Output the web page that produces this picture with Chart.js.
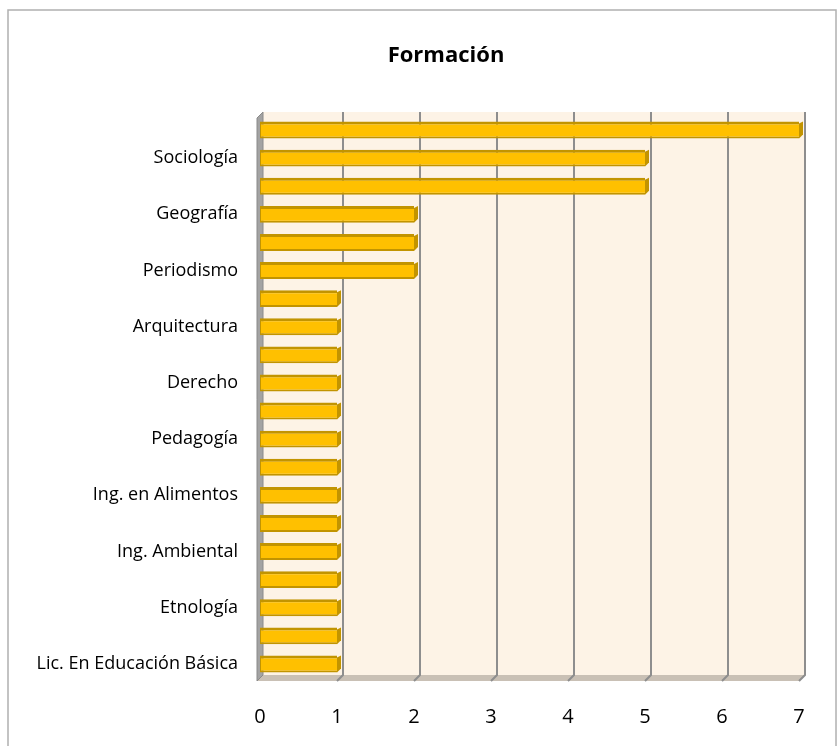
<!DOCTYPE html>
<html>
<head>
<meta charset="utf-8">
<script src="https://cdn.jsdelivr.net/npm/chart.js@4.4.1/dist/chart.umd.min.js"></script>
<style>
  html, body { margin: 0; padding: 0; background: #fff; }
  canvas { display: block; }
</style>
</head>
<body>
<canvas id="chart" width="840" height="746"></canvas>
<script>
// Categories top to bottom; Excel only printed every second label
const categories = [
  "", "Sociología", "", "Geografía", "", "Periodismo", "", "Arquitectura",
  "", "Derecho", "", "Pedagogía", "", "Ing. en Alimentos", "", "Ing. Ambiental",
  "", "Etnología", "", "Lic. En Educación Básica"
];
const values = [7, 5, 5, 2, 2, 2, 1, 1, 1, 1, 1, 1, 1, 1, 1, 1, 1, 1, 1, 1];
const xTicks = [0, 1, 2, 3, 4, 5, 6, 7];
const chartTitle = "Formación";

const DEPTH = 6;

// back wall, left wall, floor and gridlines (pseudo 3D like Excel)
const frame3d = {
  id: "frame3d",
  beforeDraw(chart) {
    const { ctx, width, height } = chart;
    ctx.save();
    ctx.fillStyle = "#fff";
    ctx.fillRect(0, 0, width, height);
    ctx.strokeStyle = "#b0b0b0";
    ctx.lineWidth = 1.5;
    ctx.strokeRect(8, 10, 828, 760);
    ctx.fillStyle = "#000";
    ctx.font = "bold 22px 'Open Sans'";
    ctx.textAlign = "center";
    ctx.textBaseline = "middle";
    ctx.fillText(chartTitle, 446, 56);
    ctx.restore();
  },
  beforeDatasetsDraw(chart) {
    const { ctx, chartArea: ca } = chart;
    const xs = chart.scales.x;
    const x0 = xs.getPixelForValue(0);
    const x7 = xs.getPixelForValue(7);
    const top = ca.top - 4, bot = ca.bottom - 3;
    ctx.save();
    // back wall
    ctx.fillStyle = "#fdf3e6";
    ctx.fillRect(x0 + 3, top, x7 + DEPTH - x0 - 3, bot - top);
    // floor
    ctx.fillStyle = "#c9c0b5";
    ctx.beginPath();
    ctx.moveTo(x0 - 3, bot + DEPTH);
    ctx.lineTo(x0 + 3, bot);
    ctx.lineTo(x7 + DEPTH, bot);
    ctx.lineTo(x7, bot + DEPTH);
    ctx.closePath();
    ctx.fill();
    // left wall
    ctx.fillStyle = "#a3a3a3";
    ctx.beginPath();
    ctx.moveTo(x0 - 3, top + DEPTH);
    ctx.lineTo(x0 + 3, top);
    ctx.lineTo(x0 + 3, bot);
    ctx.lineTo(x0 - 3, bot + DEPTH);
    ctx.closePath();
    ctx.fill();
    ctx.strokeStyle = "#8a8a8a";
    ctx.lineWidth = 1;
    ctx.stroke();
    // gridlines
    ctx.strokeStyle = "#8e8e8e";
    ctx.lineWidth = 2;
    xTicks.slice(1).forEach(v => {
      const gx = xs.getPixelForValue(v) + DEPTH;
      ctx.beginPath();
      ctx.moveTo(gx, top);
      ctx.lineTo(gx, bot);
      ctx.lineTo(gx - DEPTH, bot + DEPTH);
      ctx.stroke();
    });
    ctx.restore();
  },
  afterDatasetsDraw(chart) {
    const { ctx } = chart;
    const meta = chart.getDatasetMeta(0);
    ctx.save();
    ctx.fillStyle = "#c29400";
    meta.data.forEach(bar => {
      const p = bar.getProps(["x", "y", "height"], true);
      const t = p.y - p.height / 2, b = p.y + p.height / 2;
      ctx.beginPath();
      ctx.moveTo(p.x, t + 2);
      ctx.lineTo(p.x + 4, t);
      ctx.lineTo(p.x + 4, b - 4);
      ctx.lineTo(p.x, b);
      ctx.closePath();
      ctx.fill();
    });
    ctx.restore();
  }
};

new Chart(document.getElementById("chart"), {
  type: "bar",
  data: {
    labels: categories,
    datasets: [{
      data: values,
      backgroundColor: "#ffc000",
      borderColor: "#c29400",
      borderWidth: { top: 3, bottom: 2, left: 1, right: 0 },
      borderSkipped: false,
      categoryPercentage: 1,
      barPercentage: 0.6
    }]
  },
  options: {
    indexAxis: "y",
    responsive: false,
    animation: false,
    layout: { padding: { top: 116, right: 41, left: 0, bottom: 0 } },
    plugins: {
      legend: { display: false },
      tooltip: { enabled: false }
    },
    scales: {
      x: {
        min: 0,
        max: 7,
        afterFit: s => { s.height = 68; },
        afterBuildTicks: s => { s.ticks = xTicks.map(v => ({ value: v })); },
        grid: { display: false },
        border: { display: false },
        ticks: {
          padding: 19,
          color: "#000",
          font: { family: "'Open Sans'", size: 20 }
        }
      },
      y: {
        afterFit: s => { s.width = 260; },
        grid: { display: false, drawTicks: false },
        border: { display: false },
        ticks: {
          autoSkip: false,
          padding: 22,
          color: "#000",
          font: { family: "'Open Sans'", size: 18 }
        }
      }
    }
  },
  plugins: [frame3d]
});
</script>
</body>
</html>
